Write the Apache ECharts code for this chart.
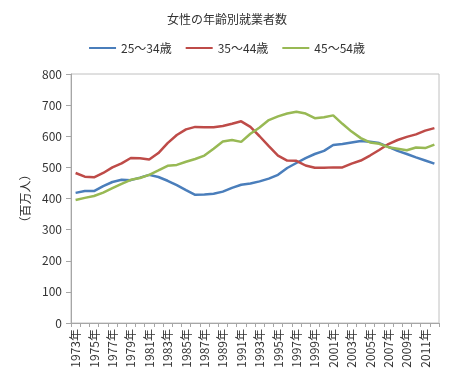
<!DOCTYPE html>
<html><head><meta charset="utf-8">
<script src="https://cdn.jsdelivr.net/npm/echarts@6/dist/echarts.min.js"></script>
<style>html,body{margin:0;padding:0;background:#fff}#c{width:454px;height:378px}</style>
</head><body><div id="c"></div>
<script>
const years = [];
for (let y = 1973; y <= 2012; y++) years.push(y + '年');
const seriesNames = ['25～34歳', '35～44歳', '45～54歳'];
const age25_34 = [418,424,424,440,453,460,459,467,476,469,457,443,427,412,413,415,422,434,444,448,455,464,476,498,514,530,543,553,572,575,580,585,582,578,566,553,543,532,522,512];
const age35_44 = [482,470,468,482,500,513,530,529,525,546,578,604,622,630,629,629,633,640,648,630,600,568,538,522,521,506,499,499,500,500,512,522,538,556,575,588,598,606,618,626];
const age45_54 = [395,402,408,419,433,447,460,466,476,490,505,508,518,527,538,560,583,588,582,608,628,652,664,673,679,673,658,661,667,640,615,594,580,576,565,560,555,564,562,573];
const colors = ['#4A7EBB', '#BE4B48', '#98B954'];
const font = "'Noto Sans CJK JP', 'Noto Sans', sans-serif";
const chart = echarts.init(document.getElementById('c'), null, {renderer: 'canvas'});
const mk = (name, data, i) => ({
  name, type: 'line', data, symbol: 'none', showSymbol: false, smooth: false,
  lineStyle: {color: colors[i], width: 2.5}, itemStyle: {color: colors[i]}
});
chart.setOption({
  animation: false,
  textStyle: {fontFamily: font},
  title: {text: '女性の年齢別就業者数', left: 'center', top: 8,
    textStyle: {fontSize: 12, fontWeight: 'normal', color: '#333', fontFamily: font}},
  legend: {top: 37, left: 'center', itemWidth: 27, itemHeight: 2, itemGap: 14, icon: 'rect',
    textStyle: {fontSize: 12, color: '#333', fontFamily: font},
    data: seriesNames},
  grid: {left: 71, right: 15, top: 74, bottom: 55, show: true, borderColor: '#c0c0c0', borderWidth: 1},
  xAxis: {type: 'category', data: years, boundaryGap: true,
    axisLine: {lineStyle: {color: '#a6a6a6'}},
    axisTick: {show: true, interval: 0, length: 4, lineStyle: {color: '#a6a6a6'}},
    axisLabel: {interval: 1, rotate: 90, fontSize: 12, color: '#333', margin: 6, fontFamily: font},
    splitLine: {show: false}},
  yAxis: {type: 'value', min: 0, max: 800, interval: 100,
    name: '（百万人）', nameLocation: 'middle', nameRotate: 90, nameGap: 40,
    nameTextStyle: {fontSize: 12, color: '#333', fontFamily: font},
    axisLine: {show: true, lineStyle: {color: '#a6a6a6'}},
    axisTick: {show: true, length: 5, lineStyle: {color: '#a6a6a6'}},
    axisLabel: {fontSize: 12, color: '#333', margin: 9},
    splitLine: {show: false}},
  series: [mk(seriesNames[0], age25_34, 0), mk(seriesNames[1], age35_44, 1), mk(seriesNames[2], age45_54, 2)]
});
</script></body></html>
